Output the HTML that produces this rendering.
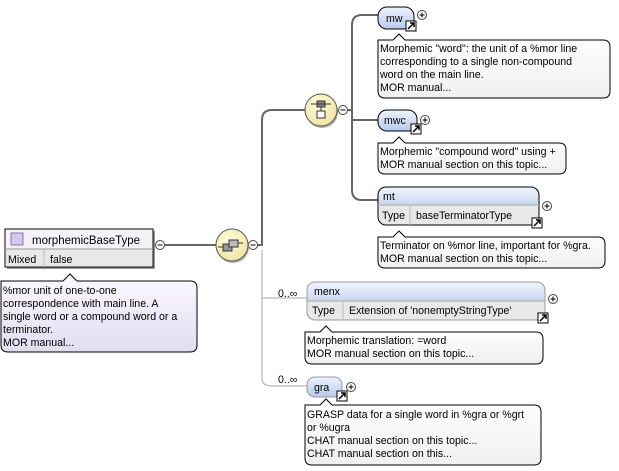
<!DOCTYPE html>
<html><head><meta charset="utf-8"><style>
body{margin:0;width:619px;height:471px;background:#fff;overflow:hidden;font-family:"Liberation Sans",sans-serif;}
svg{position:absolute;left:0;top:0}
.t{font-family:"Liberation Sans",sans-serif;font-size:10.6px;fill:#000}
.b{font-size:11.5px}
</style></head><body>
<svg width="619" height="471" viewBox="0 0 619 471">
<defs>
<linearGradient id="bl" x1="0" y1="0" x2="0" y2="1"><stop offset="0" stop-color="#eef3fc"/><stop offset="1" stop-color="#b7c9ec"/></linearGradient>
<linearGradient id="hd" x1="0" y1="0" x2="0" y2="1"><stop offset="0" stop-color="#f2f6fd"/><stop offset="1" stop-color="#c8d7f1"/></linearGradient>
<linearGradient id="nt" x1="0" y1="0" x2="0" y2="1"><stop offset="0" stop-color="#ffffff"/><stop offset="1" stop-color="#f0f0f0"/></linearGradient>
<linearGradient id="pn" x1="0" y1="0" x2="0" y2="1"><stop offset="0" stop-color="#fbfaff"/><stop offset="1" stop-color="#e2dcf0"/></linearGradient>
<radialGradient id="yc" cx="0.4" cy="0.35" r="0.7"><stop offset="0" stop-color="#fffce0"/><stop offset="1" stop-color="#efe3a0"/></radialGradient>
</defs>
<g fill="none" stroke="#666" stroke-width="2">
<path d="M165 245 H217"/>
<path d="M257 245 H262 V120 Q262 110 272 110 H306"/>
<path d="M346 110 H352"/>
<path d="M378 15 H362 Q352 15 352 25 V190 Q352 200 362 200 H378"/>
<path d="M352 120 H378"/>
</g>
<g fill="none" stroke="#aaa" stroke-width="1">
<path d="M262 250 V378 Q262 386 272 386 H307"/>
<path d="M262 298 H307"/>
</g>
<rect x="7" y="231" width="148" height="38" fill="#999"/>
<rect x="5" y="229" width="148" height="38" fill="#fff" stroke="#000"/>
<rect x="6" y="230" width="146" height="19" fill="#f4f4f8"/>
<rect x="6" y="249" width="146" height="17" fill="#e8e8e8"/>
<line x1="5" y1="249" x2="153" y2="249" stroke="#999"/>
<line x1="44" y1="249" x2="44" y2="267" stroke="#bbb"/>
<rect x="11" y="233" width="12" height="12" fill="#d4c8ee" stroke="#8877aa"/>
<text class="t b" x="32" y="244">morphemicBaseType</text>
<text class="t" x="8" y="263">Mixed</text><text class="t" x="50" y="263">false</text>
<path d="M3 281 H63 L70 274 L77 281 H190 Q197 281 197 288 V345 Q197 352 190 352 H8 Q1 352 1 345 V281 Z" fill="url(#pn)" stroke="#000"/>
<text class="t" x="3" y="294">%mor unit of one-to-one</text>
<text class="t" x="3" y="307">correspondence with main line. A</text>
<text class="t" x="3" y="320">single word or a compound word or a</text>
<text class="t" x="3" y="333">terminator.</text>
<text class="t" x="3" y="346">MOR manual...</text>
<g fill="#fff" stroke="#444"><circle cx="160" cy="245" r="4.5"/><circle cx="253" cy="245" r="4.5"/><circle cx="343" cy="110" r="4.5"/></g>
<g stroke="#000"><line x1="157.5" y1="245" x2="162.5" y2="245"/><line x1="250.5" y1="245" x2="255.5" y2="245"/><line x1="340.5" y1="110" x2="345.5" y2="110"/></g>
<circle cx="233" cy="247" r="16" fill="#aaa"/>
<circle cx="232" cy="245" r="16" fill="url(#yc)" stroke="#555"/>
<rect x="223" y="244" width="9" height="7" fill="#999" stroke="#333"/><rect x="229" y="240" width="9" height="7" fill="#bbb" stroke="#333"/><line x1="218" y1="247" x2="223" y2="247" stroke="#333"/><line x1="238" y1="243" x2="243" y2="243" stroke="#333"/>
<circle cx="322" cy="112" r="16" fill="#aaa"/>
<circle cx="321" cy="110" r="16" fill="url(#yc)" stroke="#555"/>
<rect x="317" y="101" width="8" height="6" fill="#888" stroke="#333"/><rect x="317" y="111" width="8" height="7" fill="#fff" stroke="#333"/><line x1="311" y1="104" x2="331" y2="104" stroke="#333"/><line x1="321" y1="107" x2="321" y2="111" stroke="#333"/>
<rect x="378" y="7" width="36" height="22" rx="9" fill="url(#bl)" stroke="#000"/>
<text class="t" x="386" y="22">mw</text>
<path d="M378 40 H393 L399 34 L405 40 H603 Q610 40 610 47 V91 Q610 98 603 98 H385 Q378 98 378 91 Z" fill="url(#nt)" stroke="#000"/>
<text class="t" x="380" y="52">Morphemic "word": the unit of a %mor line</text>
<text class="t" x="380" y="65">corresponding to a single non-compound</text>
<text class="t" x="380" y="78">word on the main line.</text>
<text class="t" x="380" y="91">MOR manual...</text>
<rect x="378" y="110" width="39" height="21" rx="9" fill="url(#bl)" stroke="#000"/>
<text class="t" x="384" y="124">mwc</text>
<path d="M378 143 H393 L399 137 L405 143 H559 Q566 143 566 150 V167 Q566 174 559 174 H385 Q378 174 378 167 Z" fill="url(#nt)" stroke="#000"/>
<text class="t" x="380" y="155">Morphemic "compound word" using +</text>
<text class="t" x="380" y="168">MOR manual section on this topic...</text>
<rect x="378" y="187" width="161" height="38" rx="8" fill="#e8e8e8"/>
<path d="M386 187 H531 Q539 187 539 195 V205 H378 V195 Q378 187 386 187 Z" fill="url(#hd)"/>
<rect x="378" y="187" width="161" height="38" rx="8" fill="none" stroke="#000"/>
<line x1="378" y1="205" x2="539" y2="205" stroke="#aaa"/><line x1="410" y1="205" x2="410" y2="225" stroke="#bbb"/>
<text class="t" x="383" y="200">mt</text>
<text class="t" x="382" y="219">Type</text><text class="t" x="416" y="219">baseTerminatorType</text>
<path d="M378 237 H393 L399 231 L405 237 H598 Q605 237 605 244 V261 Q605 268 598 268 H385 Q378 268 378 261 Z" fill="url(#nt)" stroke="#000"/>
<text class="t" x="380" y="249">Terminator on %mor line, important for %gra.</text>
<text class="t" x="380" y="262">MOR manual section on this topic...</text>
<text class="t" x="278" y="297">0..∞</text>
<rect x="307" y="282" width="238" height="38" rx="8" fill="#e8e8e8"/>
<path d="M315 282 H537 Q545 282 545 290 V301 H307 V290 Q307 282 315 282 Z" fill="url(#hd)"/>
<rect x="307" y="282" width="238" height="38" rx="8" fill="none" stroke="#999"/>
<line x1="307" y1="301" x2="545" y2="301" stroke="#aaa"/><line x1="343" y1="301" x2="343" y2="320" stroke="#bbb"/>
<text class="t" x="314" y="295">menx</text>
<text class="t" x="312" y="314">Type</text><text class="t" x="349" y="314">Extension of 'nonemptyStringType'</text>
<path d="M305 332 H320 L326 326 L332 332 H536 Q543 332 543 339 V357 Q543 364 536 364 H312 Q305 364 305 357 Z" fill="url(#nt)" stroke="#000"/>
<text class="t" x="307" y="344">Morphemic translation: =word</text>
<text class="t" x="307" y="357">MOR manual section on this topic...</text>
<text class="t" x="278" y="383">0..∞</text>
<rect x="307" y="377" width="35" height="20" rx="8" fill="url(#bl)" stroke="#999"/>
<text class="t" x="314" y="391">gra</text>
<path d="M305 405 H320 L326 399 L332 405 H534 Q541 405 541 412 V458 Q541 465 534 465 H312 Q305 465 305 458 Z" fill="url(#nt)" stroke="#000"/>
<text class="t" x="307" y="418">GRASP data for a single word in %gra or %grt</text>
<text class="t" x="307" y="431">or %ugra</text>
<text class="t" x="307" y="444">CHAT manual section on this topic...</text>
<text class="t" x="307" y="457">CHAT manual section on this...</text>
<g fill="#fff" stroke="#444"><circle cx="422" cy="15" r="4.5"/><circle cx="425" cy="120" r="4.5"/><circle cx="547" cy="206" r="4.5"/><circle cx="553" cy="299" r="4.5"/><circle cx="351" cy="387" r="4.5"/></g>
<g stroke="#000">
<path d="M419.5 15 H424.5 M422 12.5 V17.5"/><path d="M422.5 120 H427.5 M425 117.5 V122.5"/><path d="M544.5 206 H549.5 M547 203.5 V208.5"/><path d="M550.5 299 H555.5 M553 296.5 V301.5"/><path d="M348.5 387 H353.5 M351 384.5 V389.5"/>
</g>
<g>
<rect x="406" y="21" width="10" height="10" fill="#fff" stroke="#000"/><path d="M408 29 L414 23 M410 23 H414 V27" stroke="#000" stroke-width="1.5" fill="none"/>
<rect x="411" y="124" width="10" height="10" fill="#fff" stroke="#000"/><path d="M413 132 L419 126 M415 126 H419 V130" stroke="#000" stroke-width="1.5" fill="none"/>
<rect x="532" y="218" width="10" height="10" fill="#fff" stroke="#000"/><path d="M534 226 L540 220 M536 220 H540 V224" stroke="#000" stroke-width="1.5" fill="none"/>
<rect x="538" y="313" width="10" height="10" fill="#fff" stroke="#000"/><path d="M540 321 L546 315 M542 315 H546 V319" stroke="#000" stroke-width="1.5" fill="none"/>
<rect x="337" y="391" width="10" height="10" fill="#fff" stroke="#000"/><path d="M339 399 L345 393 M341 393 H345 V397" stroke="#000" stroke-width="1.5" fill="none"/>
</g>
</svg>
</body></html>
